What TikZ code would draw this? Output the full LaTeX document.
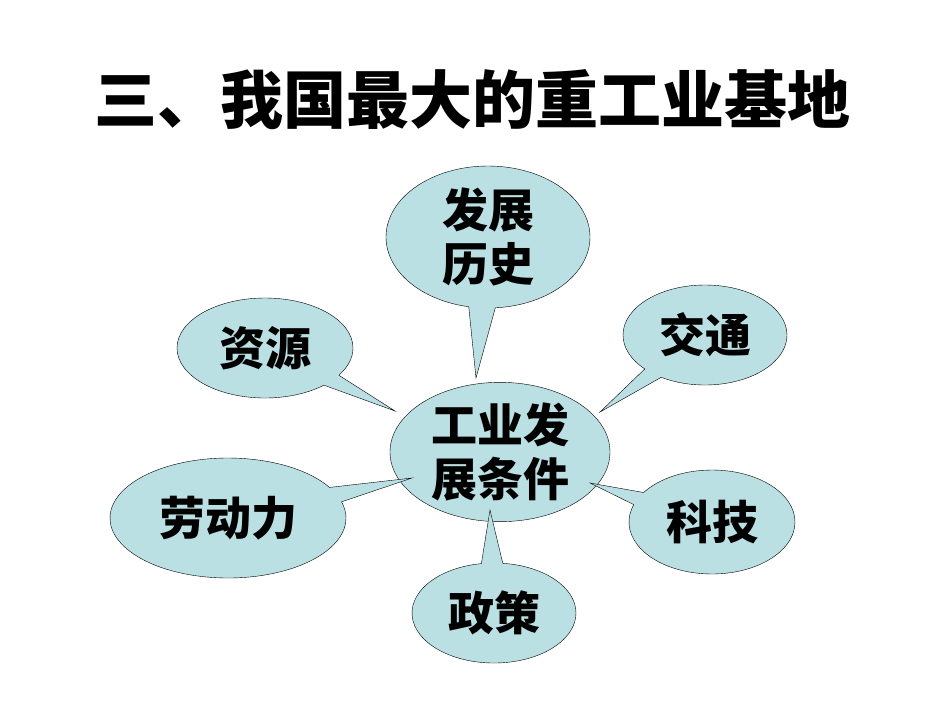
\documentclass[tikz,border=0pt]{standalone}
\usepackage{fontspec}
\setmainfont{Noto Sans CJK SC}
\usetikzlibrary{shapes.callouts,shapes.geometric}
\definecolor{bubble}{RGB}{187,224,227}
\tikzset{
  idea/.style={ellipse callout,draw=black,fill=bubble,thin,inner sep=0pt,
    font=\fontsize{46}{54}\selectfont\bfseries,align=center},
  hub/.style={ellipse,draw=black,fill=bubble,thin,inner sep=0pt,
    font=\fontsize{46}{54}\selectfont\bfseries,align=center}
}
\begin{document}
\begin{tikzpicture}[x=1pt,y=-1pt]
        \useasboundingbox (0,0) rectangle (950,713);

        \node[font=\fontsize{63}{70}\selectfont\bfseries] (title) at (472,100) {三、我国最大的重工业基地};

        \node[hub,minimum width=220pt,minimum height=122pt] (core) at (500,452) {工业发\\展条件};

        \node[idea,minimum width=204pt,minimum height=142pt,callout absolute pointer={(476,378)}] (history) at (488,237) {发展\\历史};
        \node[idea,minimum width=176pt,minimum height=100pt,callout absolute pointer={(395,411)}] (resource) at (265,348) {资源};
        \node[idea,minimum width=164pt,minimum height=100pt,callout absolute pointer={(600,412)}] (traffic) at (705,335) {交通};
        \node[idea,minimum width=236pt,minimum height=120pt,callout absolute pointer={(412,478)}] (labour) at (228,518) {劳动力};
        \node[idea,minimum width=166pt,minimum height=104pt,callout absolute pointer={(590,483)}] (tech) at (712,522) {科技};
        \node[idea,minimum width=164pt,minimum height=100pt,callout absolute pointer={(490,510)}] (policy) at (494,613) {政策};
\end{tikzpicture}
\end{document}
